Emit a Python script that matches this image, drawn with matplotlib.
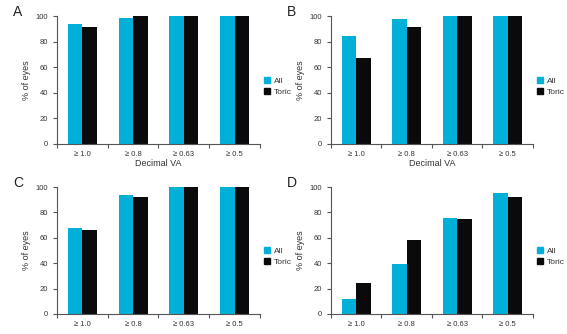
import matplotlib
matplotlib.use("Agg")
import matplotlib.pyplot as plt
from matplotlib.lines import Line2D

plt.rcParams['font.family'] = ['Liberation Sans', 'DejaVu Sans']

categories = ["≥ 1.0", "≥ 0.8", "≥ 0.63", "≥ 0.5"]
all_A = [93.5, 98.7, 100, 100]
toric_A = [91.7, 100, 100, 100]
all_B = [84.4, 97.9, 100, 100]
toric_B = [67, 91.7, 100, 100]
all_C = [67.5, 93.9, 100, 100]
toric_C = [66.5, 91.8, 100, 100]
all_D = [11.8, 39.2, 76, 95]
toric_D = [24.5, 57.9, 74.7, 91.8]

BLUE = '#00b0d8'
BLACK = '#0a0a0c'
TXT = '#333333'

fig = plt.figure(figsize=(5.67, 3.34), dpi=100)

panels = [
    ("A", all_A, toric_A, [0.1005, 0.569, 0.358, 0.383], True),
    ("B", all_B, toric_B, [0.5838, 0.569, 0.356, 0.383], True),
    ("C", all_C, toric_C, [0.1005, 0.060, 0.358, 0.380], False),
    ("D", all_D, toric_D, [0.5838, 0.060, 0.356, 0.380], False),
]

w = 0.285
for letter, a, t, rect, show_xlabel in panels:
    ax = fig.add_axes(rect)
    x = list(range(len(categories)))
    ax.bar([i - w / 2 for i in x], a, width=w, color=BLUE, label='All')
    ax.bar([i + w / 2 for i in x], t, width=w, color=BLACK, label='Toric')
    ax.set_xlim(-0.5, 3.5)
    ax.set_ylim(0, 100)
    for s in ['top', 'right']:
        ax.spines[s].set_visible(False)
    for s in ['left', 'bottom']:
        ax.spines[s].set_color('#555555')
        ax.spines[s].set_linewidth(0.8)
    ax.set_yticks(range(0, 101, 20))
    ax.set_xticks([-0.5, 0.5, 1.5, 2.5, 3.5])
    ax.set_xticklabels([])
    ax.set_xticks(x, minor=True)
    ax.set_xticklabels(categories, minor=True)
    ax.tick_params(axis='x', which='minor', length=0, labelsize=5.5, colors=TXT, pad=5)
    ax.tick_params(axis='x', which='major', length=3, direction='out', color='#555555')
    ax.tick_params(axis='y', length=3, direction='out', labelsize=5.5, colors=TXT, color='#555555')
    ax.set_ylabel('% of eyes', fontsize=6.5, color=TXT, labelpad=3)
    if show_xlabel:
        ax.set_xlabel('Decimal VA', fontsize=6.5, color=TXT, labelpad=1)
    handles = [Line2D([], [], marker='s', color=BLUE, linestyle='', markersize=4),
               Line2D([], [], marker='s', color=BLACK, linestyle='', markersize=4)]
    ax.legend(handles, ['All', 'Toric'], loc='center left', bbox_to_anchor=(1.0, 0.45),
              frameon=False, fontsize=6, handlelength=0.8, handletextpad=0.4,
              borderpad=0, labelspacing=0.4, labelcolor=TXT)
    fig.text(rect[0] - 0.078, rect[1] + rect[3] + 0.0, letter, fontsize=10, color='#222222')

fig.savefig('out.png', dpi=100)
